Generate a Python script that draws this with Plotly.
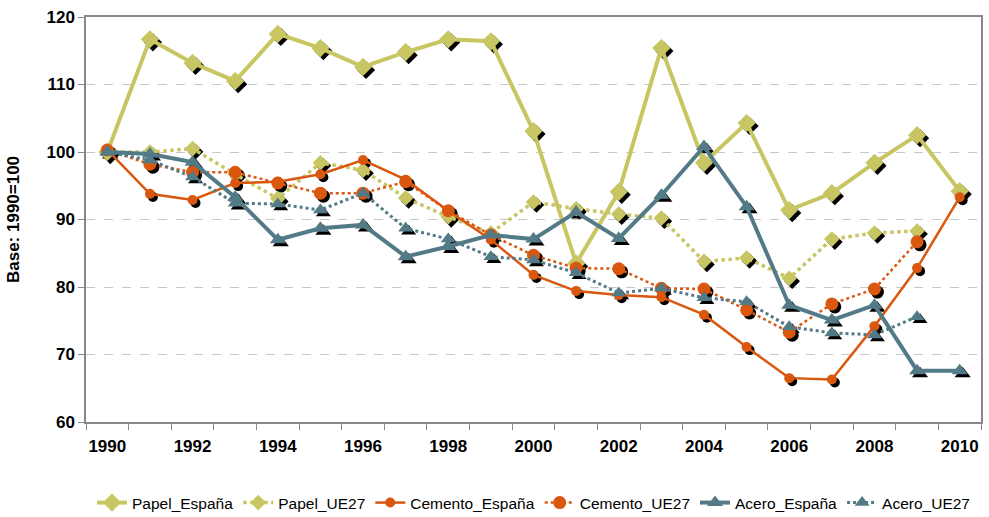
import plotly.graph_objects as go

years = list(range(1990, 2011))

papel_espana = [100, 116.7, 113.2, 110.5, 117.5, 115.4, 112.6, 114.8, 116.7, 116.4,
                103.1, 83.5, 94.1, 115.4, 98.4, 104.3, 91.4, 93.9, 98.4, 102.5, 94.2]
papel_ue27 = [100, 100.0, 100.5, 96.7, 93.1, 98.4, 97.3, 93.2, 90.4, 88.0,
              92.6, 91.6, 90.8, 90.2, 83.8, 84.3, 81.3, 87.1, 88.0, 88.3, None]
cemento_espana = [100.3, 93.8, 92.9, 95.4, 95.6, 96.7, 98.8, 95.9, 91.3, 87.0,
                  81.8, 79.4, 78.8, 78.5, 75.9, 71.1, 66.5, 66.3, 74.2, 82.8, 93.3]
cemento_ue27 = [100.3, 98.2, 97.0, 97.0, 95.4, 93.9, 93.9, 95.6, 91.3, 87.7,
                84.7, 82.8, 82.7, 79.8, 79.7, 76.6, 73.3, 77.5, 79.7, 86.7, None]
acero_espana = [100, 99.7, 98.5, 93.3, 87.0, 88.7, 89.2, 84.5, 86.0, 87.7,
                87.1, 91.1, 87.2, 93.6, 100.8, 91.9, 77.3, 75.1, 77.3, 67.6, 67.6]
acero_ue27 = [100, 98.8, 96.3, 92.4, 92.3, 91.4, 93.9, 88.7, 87.1, 84.5,
              84.0, 82.1, 79.1, 79.8, 78.4, 77.8, 74.1, 73.2, 72.9, 75.6, None]

tick_years = list(range(1990, 2011, 2))
tick_labels = [str(y) for y in tick_years]

OLIVE = "#C8C662"
ORANGE = "#D9570F"
SLATE = "#537A87"

series = [
    ("Papel_España", papel_espana, OLIVE, "solid", 4, "diamond", 14),
    ("Papel_UE27", papel_ue27, OLIVE, "dot", 3.5, "diamond", 12),
    ("Cemento_España", cemento_espana, ORANGE, "solid", 2.5, "circle", 10),
    ("Cemento_UE27", cemento_ue27, ORANGE, "dot", 2.5, "circle", 13),
    ("Acero_España", acero_espana, SLATE, "solid", 4, "triangle-up", 14),
    ("Acero_UE27", acero_ue27, SLATE, "dot", 3, "triangle-up", 13),
]

fig = go.Figure()

# drop shadows of the markers, on the (hidden) base axes whose ranges are offset
for name, vals, col, dash, w, sym, sz in series:
    fig.add_trace(go.Scatter(
        x=years, y=vals, mode="markers", xaxis="x", yaxis="y",
        marker=dict(symbol=sym, size=sz, color="black"),
        showlegend=False, hoverinfo="skip"))

for name, vals, col, dash, w, sym, sz in series:
    fig.add_trace(go.Scatter(
        x=years, y=vals, name=name, mode="lines+markers", xaxis="x2", yaxis="y2",
        line=dict(color=col, width=w, dash=dash),
        marker=dict(symbol=sym, size=sz, color=col),
        connectgaps=False))

FONT = "Liberation Sans"
dx = 0.07
dy = 0.45
fig.update_layout(
    width=989, height=517,
    margin=dict(l=86, r=8, t=17, b=95, autoexpand=False),
    paper_bgcolor="white", plot_bgcolor="white",
    font=dict(family=FONT, size=15, color="black"),
    showlegend=True,
    legend=dict(orientation="h", x=0.5, xanchor="center", y=-0.2, yanchor="middle",
                font=dict(family=FONT, size=15.5, color="black"),
                itemwidth=30, tracegroupgap=0, traceorder="normal"),
    xaxis=dict(range=[1989.5 - dx, 2010.5 - dx], visible=False),
    yaxis=dict(range=[60 + dy, 120 + dy], visible=False),
    xaxis2=dict(range=[1989.5, 2010.5], overlaying="x", anchor="y2",
                tickmode="array", tickvals=tick_years,
                ticktext=tick_labels, ticks="", showgrid=False,
                showline=True, linecolor="#888888", linewidth=1.5, mirror=True,
                ticklabelstandoff=8,
                tickfont=dict(family=FONT, size=17, color="black", weight="bold"),
                minor=dict(tickmode="linear", tick0=1989.5, dtick=1, ticks="outside",
                           ticklen=6, tickcolor="#888888", showgrid=False),
                zeroline=False),
    yaxis2=dict(range=[60, 120], overlaying="y", anchor="x2", side="left",
                tickmode="linear", tick0=60, dtick=10,
                showgrid=True, gridcolor="#C8C8C8", griddash="dash", gridwidth=1,
                showline=True, linecolor="#888888", linewidth=1.5, mirror=True,
                ticks="outside", ticklen=6, tickcolor="#888888",
                tickfont=dict(family=FONT, size=17, color="black", weight="bold"),
                title=dict(text="Base: 1990=100", standoff=23,
                           font=dict(family=FONT, size=17, color="black", weight="bold")),
                zeroline=False),
)

fig.write_html("out.html", config={"displayModeBar": False},
               post_script="document.body.style.margin='0';document.body.style.padding='0';")
